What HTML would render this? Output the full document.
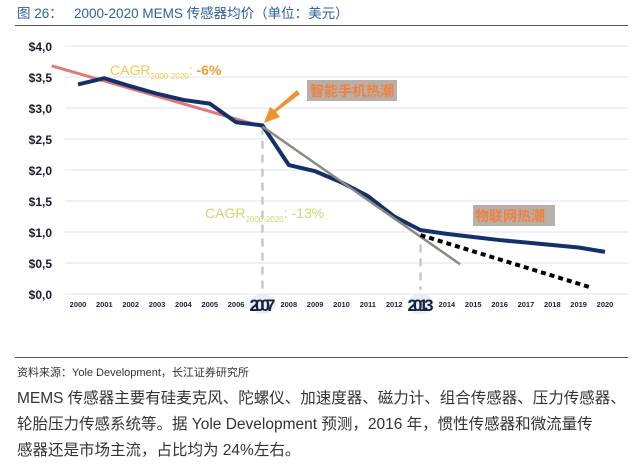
<!DOCTYPE html>
<html><head><meta charset="utf-8"><style>
body{margin:0;width:640px;height:465px;background:#fff;overflow:hidden;font-family:"Liberation Sans","Noto Sans CJK SC",sans-serif}
.t{position:absolute;white-space:nowrap}
</style></head><body>
<div class="t" style="left:17px;top:2px;font-size:13.5px;color:#2c5f9e">图 26：&nbsp;&nbsp;&nbsp;2000-2020 MEMS 传感器均价（单位：美元）</div>
<div style="position:absolute;left:15px;top:25px;width:613px;height:1px;background:#555"></div>
<svg id="c" width="640" height="340" style="position:absolute;left:0;top:0" font-family="Liberation Sans, Noto Sans CJK SC, sans-serif"></svg>
<div style="position:absolute;left:15px;top:357px;width:613px;height:1px;background:#555"></div>
<div class="t" style="left:17px;top:364px;font-size:11px;color:#333">资料来源：Yole Development，长江证券研究所</div>
<div style="position:absolute;left:17px;top:386px;width:620px;font-size:15.5px;line-height:26px;color:#333">MEMS 传感器主要有硅麦克风、陀螺仪、加速度器、磁力计、组合传感器、压力传感器、<br>轮胎压力传感系统等。据 Yole Development 预测，2016 年，惯性传感器和微流量传<br>感器还是市场主流，占比均为 24%左右。</div>
<script>
const years=[2000,2001,2002,2003,2004,2005,2006,2007,2008,2009,2010,2011,2012,2013,2014,2015,2016,2017,2018,2019,2020];
const prices=[3.38,3.48,3.35,3.23,3.13,3.07,2.77,2.72,2.08,1.98,1.80,1.58,1.25,1.03,0.97,0.92,0.87,0.83,0.79,0.75,0.68];
const yTicks=[0,0.5,1,1.5,2,2.5,3,3.5,4];
const yTickLabels=["$0,0","$0,5","$1,0","$1,5","$2,0","$2,5","$3,0","$3,5","$4,0"];
const trend1=[[1999,3.68],[2007,2.70]];
const trend2=[[2007,2.70],[2014.5,0.48]];
const forecast=[[2013,0.95],[2019.5,0.1]];
const X=y=>78+(y-2000)*26.35, Y=v=>294-v*62;
const svg=document.getElementById('c'),NS='http://www.w3.org/2000/svg';
function el(t,a,p){const e=document.createElementNS(NS,t);for(const k in a)e.setAttribute(k,a[k]);(p||svg).appendChild(e);return e;}
yTicks.forEach((v,i)=>{
 const g=el('line',{x1:65,x2:628,y1:Y(v),y2:Y(v),stroke:'#dde6f0','stroke-width':1});
 
 
 const t=el('text',{x:52,y:Y(v)+5,'text-anchor':'end','font-size':12,'font-weight':'bold',fill:'#1a1a2e'});t.textContent=yTickLabels[i];
 
 
});
years.forEach(y=>{
 const big=(y===2007||y===2013);
 if(big){const c=el('ellipse',{cx:X(y),cy:304,rx:13,ry:10,fill:'#e8eef5'});
 
 }
 const t=el('text',{x:X(y),y:big?311:307,'text-anchor':'middle','font-size':big?17:7.5,'font-weight':'bold',fill:'#1a2040','font-family':'Liberation Sans Narrow, Liberation Sans, sans-serif'});
 if(big)t.setAttribute('textLength',26);
 t.textContent=y;
 
 
});
[[2007,2.70],[2013,0.8]].forEach(p=>{const l=el('line',{x1:X(p[0]),x2:X(p[0]),y1:Y(p[1]),y2:290,stroke:'#c8c8c8','stroke-width':2.5,'stroke-dasharray':'8 6'});
 
 });
const tr1=el('line',{x1:X(trend1[0][0]),y1:Y(trend1[0][1]),x2:X(trend1[1][0]),y2:Y(trend1[1][1]),stroke:'#e07a78','stroke-width':3});


const pl=el('polyline',{points:years.map((y,i)=>X(y)+','+Y(prices[i])).join(' '),fill:'none',stroke:'#13306a','stroke-width':4,'stroke-linejoin':'round'});


const tr2=el('line',{x1:X(trend2[0][0]),y1:Y(trend2[0][1]),x2:X(trend2[1][0]),y2:Y(trend2[1][1]),stroke:'#8a8a82','stroke-width':2.5});


const fc=el('line',{x1:X(forecast[0][0]),y1:Y(forecast[0][1]),x2:X(forecast[1][0]),y2:Y(forecast[1][1]),stroke:'#000','stroke-width':4,'stroke-dasharray':'5 4'});


const a1=el('text',{x:110,y:75,'font-size':14,fill:'#f2c94c'});a1.innerHTML='CAGR<tspan font-size="8" dy="4">2000-2020</tspan><tspan dy="-4">: </tspan><tspan fill="#f0a030" font-weight="bold">-6%</tspan>';


const a2=el('text',{x:205,y:218,'font-size':14,fill:'#c8d870'});a2.innerHTML='CAGR<tspan font-size="8" dy="4">2000-2020</tspan><tspan dy="-4">: -13%</tspan>';


const b1=el('rect',{x:307,y:80,width:90,height:21,fill:'#b8b0a8'});


const t1=el('text',{x:310,y:96,'font-size':14,'font-weight':'bold',fill:'#f08040'});t1.textContent='智能手机热潮';


const b2=el('rect',{x:473,y:205,width:82,height:21,fill:'#b8b0a8'});


const t2=el('text',{x:475,y:221,'font-size':14,'font-weight':'bold',fill:'#f08040'});t2.textContent='物联网热潮';


const ar=el('path',{d:'M300,94 L276,112 L280,117 L264,123 L270,107 L274,110 L297,90 Z',fill:'#f0922e'});


</script>
</body></html>
